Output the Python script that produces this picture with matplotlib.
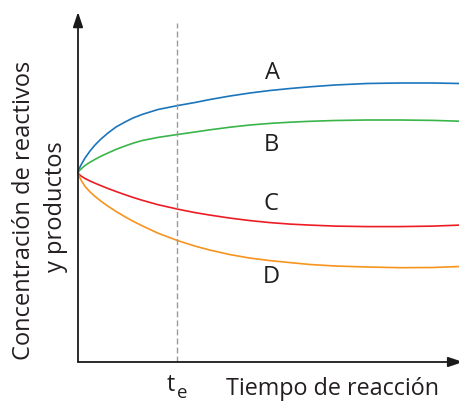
import matplotlib
matplotlib.use("Agg")
import matplotlib.pyplot as plt

# time axis (arbitrary units) and concentration values (arbitrary units)
t = [0, 1, 3, 7, 12, 17, 23, 30, 38, 47, 55, 64, 80, 100, 117, 132, 152, 172, 192, 212, 232, 257, 289, 322, 355, 382]
conc_A = [189, 193, 197, 204, 211, 217, 223, 229, 235, 240, 244, 247.5, 252.5, 256.5, 259.5, 262.5,
          266, 269, 271.5, 273.5, 275.2, 277, 278.5, 279, 279, 278.5]
conc_B = [189, 191, 193, 196.5, 199.8, 202.6, 205.8, 209, 212.6, 216, 218.8, 221.4, 224.6, 227.6, 230, 232.2,
          234.8, 237, 238.6, 239.8, 240.7, 241.5, 242, 242, 241.6, 240.8]
conc_C = [189, 187.8, 186, 183.5, 181, 178.8, 176.3, 173.5, 170.5, 167.3, 164.6, 161.8, 157.3, 152.8, 149.4, 146.9,
          143.9, 141.4, 139.4, 137.9, 136.9, 135.9, 135.4, 135.4, 135.9, 136.9]
conc_D = [189, 186, 182, 175.6, 170.1, 165.6, 160.8, 155.8, 150.6, 145.2, 140.8, 136.3, 128.8, 121.3, 115.9, 111.9,
          107.4, 103.9, 101.4, 99.4, 97.5, 96, 95, 94.3, 94.5, 95.5]
t_e = 99
series_names = ["A", "B", "C", "D"]

W, H = 460, 403
fig = plt.figure(figsize=(W / 100, H / 100), dpi=100)
ax = fig.add_axes([78 / W, (H - 362) / H, 384 / W, 350 / H])
ax.set_xlim(0, 384)
ax.set_ylim(0, 350)
ax.axis("off")

font = "Open Sans"
txt_color = "#231f20"
colors = {"A": "#1a75bc", "B": "#39b54a", "C": "#ed1c24", "D": "#f7941d"}
data = {"A": conc_A, "B": conc_B, "C": conc_C, "D": conc_D}
for name in series_names:
    ax.plot(t, data[name], color=colors[name], lw=1.2, solid_capstyle="round",
            solid_joinstyle="round", clip_on=False)

# dashed t_e line
ax.plot([t_e, t_e], [0, 339], color="#9a9a9a", lw=1.0, dashes=(4.3, 2.2), clip_on=False)

# axes with arrows
arrow_kw = dict(arrowstyle="-|>,head_length=0.9,head_width=0.3", color="#1a1a1a", lw=1.3,
                shrinkA=0, shrinkB=0)
ax.annotate("", xy=(0, 1.0), xytext=(0, 0), xycoords="axes fraction",
            arrowprops=arrow_kw, annotation_clip=False)
ax.annotate("", xy=(1.003, 0), xytext=(0, 0), xycoords="axes fraction",
            arrowprops=arrow_kw, annotation_clip=False)

# series labels
label_pos = {"A": (195, 289), "B": (193, 217), "C": (193, 158), "D": (193, 85)}
for name in series_names:
    x, y = label_pos[name]
    ax.text(x, y, name, fontsize=17, family=font, color=txt_color, ha="center", va="center")

# x labels
fig.text(171 / W, 1 - 385 / H, "t", fontsize=16.5, family=font, color=txt_color, ha="center", va="center")
fig.text(182 / W, 1 - 393.5 / H, "e", fontsize=13.5, family=font, color=txt_color, ha="center", va="center")
fig.text(333 / W, 1 - 389 / H, "Tiempo de reacción", fontsize=16.8, family=font,
         color=txt_color, ha="center", va="center")

# y label (two lines)
fig.text(24 / W, 1 - 210 / H, "Concentración de reactivos", fontsize=17, family=font,
         color=txt_color, ha="center", va="center", rotation=90)
fig.text(56 / W, 1 - 207 / H, "y productos", fontsize=17, family=font,
         color=txt_color, ha="center", va="center", rotation=90)

fig.savefig("out.png", dpi=100)
